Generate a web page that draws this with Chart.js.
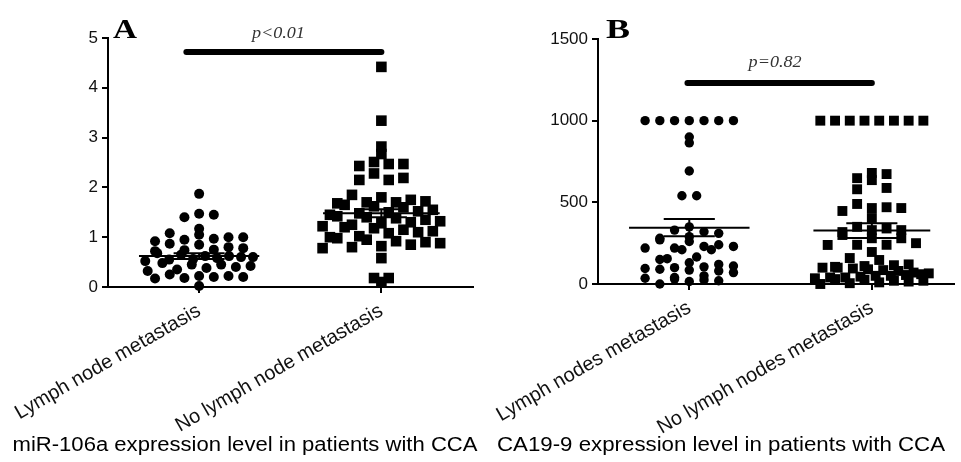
<!DOCTYPE html>
<html lang="en">
<head>
<meta charset="UTF-8">
<title>miR-106a and CA19-9 in CCA</title>
<style>
  html, body { margin: 0; padding: 0; background: #fff; }
  .wrap { position: relative; width: 961px; height: 462px; overflow: hidden; }
  .panel { position: absolute; top: 0; }
  #panelA { left: 0; }
  #panelB { left: 480px; }
</style>
</head>
<body>
<div class="wrap">
  <div class="panel" id="panelA"><canvas id="chartA" width="480" height="462"></canvas></div>
  <div class="panel" id="panelB"><canvas id="chartB" width="481" height="462"></canvas></div>
</div>
<script src="https://cdn.jsdelivr.net/npm/chart.js"></script>
<script>
// ---- data ----
const categoriesA = ['Lymph node metastasis', 'No lymph node metastasis'];
const categoriesB = ['Lymph nodes metastasis', 'No lymph nodes metastasis'];

const mirLymph = [0.02,
  0.17, 0.18, 0.20, 0.20, 0.22, 0.22, 0.25,
  0.32, 0.35, 0.38, 0.40, 0.42, 0.45, 0.45, 0.48,
  0.52, 0.55, 0.56, 0.58, 0.60, 0.60, 0.62, 0.62, 0.65, 0.68,
  0.72, 0.74, 0.75, 0.78, 0.80, 0.85, 0.87,
  0.92, 0.95, 0.97, 1.00, 1.00, 1.05, 1.08,
  1.17, 1.40, 1.45, 1.47, 1.87];
const mirNoLymph = [4.42, 3.34, 2.82,
  2.67, 2.51, 2.47, 2.47, 2.43,
  2.28, 2.19, 2.15, 2.15,
  1.85, 1.80, 1.75, 1.72, 1.70, 1.70, 1.68, 1.65, 1.62, 1.60,
  1.55, 1.52, 1.50, 1.48, 1.45, 1.42, 1.40, 1.38, 1.35, 1.32, 1.30, 1.28,
  1.25, 1.22, 1.20, 1.18, 1.15, 1.12, 1.10, 1.08,
  1.02, 1.00, 0.98, 0.95, 0.92, 0.90, 0.88, 0.85, 0.82, 0.80, 0.78,
  0.58, 0.18, 0.10, 0.18];

const caLymph = [1000, 1000, 1000, 1000, 1000, 1000, 1000,
  900, 864, 692, 540, 540,
  350, 330, 320, 310,
  290, 280, 270, 260,
  240, 230, 230, 220, 220, 210, 210,
  165, 155, 150,
  130, 120, 110, 105, 100, 95, 90, 85, 80, 70,
  50, 40, 35, 30, 25, 20, 15, 0];
const caNoLymph = [1000, 1000, 1000, 1000, 1000, 1000, 1000, 1000,
  680, 673, 648, 636, 588, 580,
  490, 470, 465, 465, 447, 404,
  350, 340, 330, 330, 318, 300,
  280, 280, 250, 240, 240, 239,
  196, 159, 147,
  120, 115, 110, 105, 100, 100, 95, 90, 85, 80,
  70, 65, 60, 55, 50, 50, 45, 40, 40, 35,
  30, 25, 20, 20, 15, 10, 5, 0];

const mirMean = [0.62, 1.48];
const mirSem = [0.06, 0.08];
const caMean = [345, 327];
const caSem = [53, 45];

const yTicksA = [0, 1, 2, 3, 4, 5];
const yTicksB = [0, 500, 1000, 1500];
const pLabels = ['p<0.01', 'p=0.82'];
const sigLevels = [4.72, 1230];
const titles = ['miR-106a expression level in patients with CCA',
  'CA19-9 expression level in patients with CCA'];

const SANS = "'Liberation Sans', Arial, sans-serif";
const SERIF = "'Liberation Serif', 'Times New Roman', serif";

// GraphPad-style column scatter: bin by height, spread each bin sideways
function swarm(values, center, pxX, pxY, binPx, stepPx, halfPx) {
  const bins = new Map();
  values.slice().sort((a, b) => a - b).forEach(v => {
    const k = Math.round(v * pxY / binPx);
    if (!bins.has(k)) bins.set(k, []);
    bins.get(k).push(v);
  });
  const pts = [];
  bins.forEach(list => {
    const n = list.length;
    const step = n > 1 ? Math.min(stepPx, 2 * halfPx / (n - 1)) : 0;
    // zigzag low/high so a row doesn't slope
    const row = list.map((v, i) => i % 2 === 0 ? list[i / 2] : list[n - 1 - (i - 1) / 2]);
    row.forEach((v, i) => pts.push({ x: center + (i - (n - 1) / 2) * step / pxX, y: v }));
  });
  return pts;
}

function errorBar(c, m, s, w) {
  return [
    { x: c - w, y: m + s }, { x: c + w, y: m + s }, { x: c, y: null },
    { x: c, y: m + s }, { x: c, y: m - s }, { x: c, y: null },
    { x: c - w, y: m - s }, { x: c + w, y: m - s }
  ];
}

function lineSet(data, width, cap) {
  return {
    type: 'line', data: data, borderColor: '#000', borderWidth: width,
    borderCapStyle: cap || 'butt', pointRadius: 0, spanGaps: false,
    fill: false, clip: false, order: 0
  };
}

// the original figure is a little wider than tall, so text is stretched to fit
function wideText(ctx, text, cx, y, width) {
  const w = ctx.measureText(text).width;
  ctx.save();
  ctx.translate(cx, y);
  ctx.scale(width / w, 1);
  ctx.textAlign = 'center';
  ctx.fillText(text, 0, 0);
  ctx.restore();
}

const overlay = {
  id: 'overlay',
  afterDraw(chart, args, o) {
    const ctx = chart.ctx;
    const xs = chart.scales.x, ys = chart.scales.y;
    ctx.save();
    ctx.fillStyle = '#000';
    ctx.textBaseline = 'alphabetic';
    ctx.font = 'bold 28px ' + SERIF;
    wideText(ctx, o.letter, o.letterX, 38, 24);

    ctx.font = 'italic 17px ' + SERIF;
    ctx.fillStyle = '#333';
    wideText(ctx, o.p, xs.getPixelForValue(o.pX), ys.getPixelForValue(o.pY) - o.pGap, 53);

    ctx.font = '20px ' + SANS;
    ctx.fillStyle = '#000';
    wideText(ctx, o.title, o.titleX, 451, o.titleW);
    ctx.restore();
  }
};

function makeChart(id, cfg) {
  const dsA = swarm(cfg.g1, 1, 186, cfg.pxY, 10, 15, cfg.half1);
  const dsB = swarm(cfg.g2, 2, 186, cfg.pxY, 11, 15, cfg.half2);
  return new Chart(document.getElementById(id), {
    type: 'scatter',
    data: {
      datasets: [
        lineSet([{ x: cfg.sigX[0], y: cfg.sig }, { x: cfg.sigX[1], y: cfg.sig }], 6, 'round'),
        lineSet([{ x: 1 - 0.33, y: cfg.mean[0] }, { x: 1 + 0.33, y: cfg.mean[0] }], 2),
        lineSet([{ x: 2 - 0.32, y: cfg.mean[1] }, { x: 2 + 0.32, y: cfg.mean[1] }], 2),
        lineSet(errorBar(1, cfg.mean[0], cfg.sem[0], 0.14), 2),
        lineSet(errorBar(2, cfg.mean[1], cfg.sem[1], 0.14), 2),
        { data: dsA, pointStyle: 'circle', pointRadius: cfg.r1, backgroundColor: '#000',
          borderWidth: 0, clip: false, order: 1 },
        { data: dsB, pointStyle: 'rect', pointRadius: cfg.r2, backgroundColor: '#000',
          borderWidth: 0, clip: false, order: 1 }
      ]
    },
    options: {
      responsive: false,
      animation: false,
      events: [],
      layout: { padding: { top: cfg.top, left: 0, right: 0, bottom: 0 } },
      plugins: {
        legend: { display: false },
        tooltip: { enabled: false },
        overlay: cfg.overlay
      },
      scales: {
        x: {
          type: 'linear', min: 0.5, max: cfg.xMax,
          afterBuildTicks: s => { s.ticks = [{ value: 1 }, { value: 2 }]; },
          afterFit: s => {
            s.height = cfg.xHeight;
            s.paddingLeft = 0;
            s.paddingRight = 0;
          },
          ticks: {
            callback: v => cfg.cats[v - 1],
            minRotation: 30, maxRotation: 30, padding: 6,
            color: '#111', font: { family: SANS, size: 20 }
          },
          grid: { drawOnChartArea: false, drawTicks: true, tickLength: 6, color: '#000', lineWidth: 2 },
          border: { display: true, color: '#000', width: 2 }
        },
        y: {
          min: 0, max: cfg.yMax,
          afterBuildTicks: s => { s.ticks = cfg.yTicks.map(v => ({ value: v })); },
          afterFit: s => { s.width = cfg.yWidth; },
          ticks: {
            callback: v => String(v), padding: 4,
            color: '#111', font: { family: SANS, size: 17 }
          },
          grid: { drawOnChartArea: false, drawTicks: true, tickLength: 6, color: '#000', lineWidth: 2 },
          border: { display: true, color: '#000', width: 2 }
        }
      }
    },
    plugins: [overlay]
  });
}

makeChart('chartA', {
  g1: mirLymph, g2: mirNoLymph, cats: categoriesA,
  mean: mirMean, sem: mirSem, sig: sigLevels[0], sigX: [0.93, 2.0],
  yMax: 5, yTicks: yTicksA, pxY: 49.8, xMax: 2.5,
  top: 38, xHeight: 175, yWidth: 108,
  r1: 5, r2: 7.5, half1: 55, half2: 66,
  overlay: { letter: 'A', letterX: 125, p: pLabels[0], pX: 1.435, pY: sigLevels[0], pGap: 14,
    title: titles[0], titleX: 245, titleW: 465 }
});

makeChart('chartB', {
  g1: caLymph, g2: caNoLymph, cats: categoriesB,
  mean: caMean, sem: caSem, sig: sigLevels[1], sigX: [0.99, 2.0],
  yMax: 1500, yTicks: yTicksB, pxY: 245 / 1500, xMax: 2.45,
  top: 39, xHeight: 178, yWidth: 118,
  r1: 4.7, r2: 7, half1: 45, half2: 58,
  overlay: { letter: 'B', letterX: 138, p: pLabels[1], pX: 1.47, pY: sigLevels[1], pGap: 16,
    title: titles[1], titleX: 241, titleW: 448 }
});
</script>
</body>
</html>
